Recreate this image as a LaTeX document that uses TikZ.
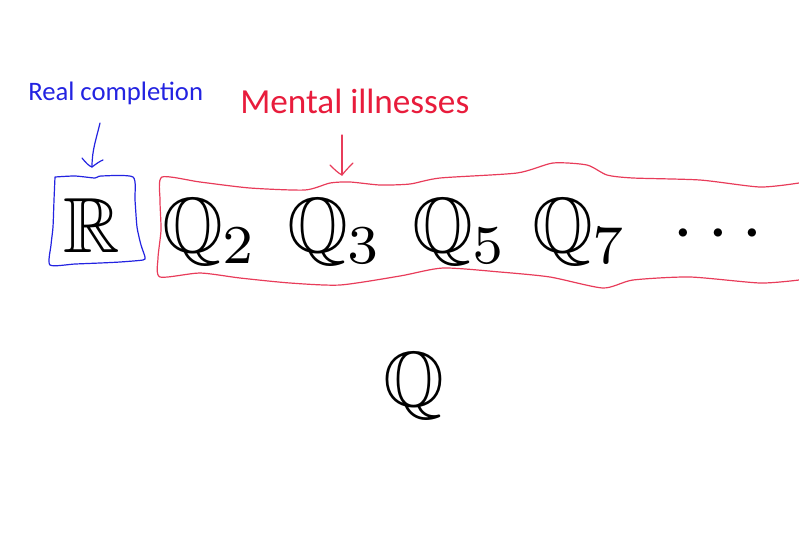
\documentclass[tikz,border=0pt]{standalone}
\usepackage{graphicx}
\usepackage{amssymb}
\usepackage{fontspec}
\newfontfamily\calib{Carlito}
\definecolor{penblue}{RGB}{35,35,225}
\definecolor{penred}{RGB}{232,28,60}
\definecolor{linered}{RGB}{232,60,90}
\newcommand{\hugemath}[1]{\scalebox{5.87}{$#1$}}
\tikzset{
  bigmath/.style={inner sep=0pt, anchor=base, font=\fontsize{10}{12}\selectfont},
  bluelab/.style={inner sep=0pt, anchor=base west, text=penblue, font=\calib\fontsize{20}{24}\selectfont},
  redlab/.style={inner sep=0pt, anchor=base west, text=penred, font=\calib\fontsize{26.4}{30}\selectfont},
  bluepen/.style={draw=penblue, line width=0.9pt, line join=round, line cap=round},
  redpen/.style={draw=linered, line width=0.9pt, line join=round, line cap=round},
}
\begin{document}
\begin{tikzpicture}[x=0.75pt,y=-0.75pt]
\useasboundingbox (0,0) rectangle (799,551);
% labels
\node[bluelab] (real) at (28,100) {Real completion};
\node[redlab] (mental) at (240,113) {Mental illnesses};
% symbols
\node[bigmath] (R) at (91.5,252) {\hugemath{\mathbb{R}}};
\node[bigmath] (Q2) at (210,252) {\hugemath{\mathbb{Q}_2}};
\node[bigmath] (Q3) at (335,252) {\hugemath{\mathbb{Q}_3}};
\node[bigmath] (Q5) at (460,252) {\hugemath{\mathbb{Q}_5}};
\node[bigmath] (Q7) at (580,252) {\hugemath{\mathbb{Q}_7}};
\node[bigmath] (dots) at (718,252) {\hugemath{\cdots}};
\node[bigmath] (Q) at (414,406) {\hugemath{\mathbb{Q}}};
% blue box round R
\draw[bluepen] plot[smooth, tension=0.4] coordinates {
  (55,177) (75,176) (95,178) (101,176) (133,177) (135,200) (137,227) (141,245) (145,257)
  (143,260) (120,262) (100,263) (75,264) (50,265) (51,245) (53,227) (54,200) (55,177)};
% red band
\draw[redpen] plot[smooth, tension=0.4] coordinates {
  (799,183) (760,187) (700,180) (633,178) (607,175) (587,165) (553,163) (517,173) (440,178)
  (410,184) (380,185) (350,182) (330,183) (305,190) (250,188) (200,182) (162,177)
  (160,200) (161,230) (158,258) (160,277)
  (200,273) (240,278) (290,283) (340,285) (400,276) (443,268) (500,272) (550,277)
  (603,288) (633,280) (690,277) (760,283) (799,280)};
% arrows
\coordinate (rtip) at (92,167);
\coordinate (mtip) at (342,175);
\draw[bluepen] (100,123) .. controls (96,140) and (92,150) .. (rtip);
\draw[bluepen] (82,158) .. controls (86,163) and (89,166) .. (rtip) .. controls (96,164) and (100,161) .. (103,160);
\draw[redpen] (342,135) -- (mtip);
\draw[redpen] (330,165) .. controls (334,169) and (338,173) .. (mtip) .. controls (346,170) and (350,166) .. (353,163);
\end{tikzpicture}
\end{document}
